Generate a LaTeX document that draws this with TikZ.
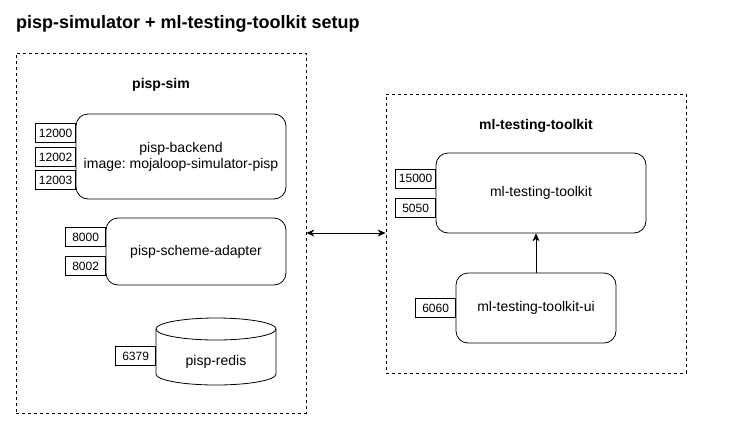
\documentclass[tikz,border=0pt]{standalone}
\usepackage{fontspec}
\setmainfont{Liberation Sans}
\usetikzlibrary{arrows.meta}
\frenchspacing
\begin{document}
\begin{tikzpicture}[x=1pt,y=-1pt,
  grp/.style={draw,dashed,line width=0.8pt},
  svc/.style={draw,rounded corners=12pt,line width=0.8pt,font=\fontsize{14}{16}\selectfont,align=center,inner sep=0pt},
  port/.style={draw,line width=0.8pt,font=\fontsize{12}{14}\selectfont,inner sep=0pt,minimum width=40pt,minimum height=19pt},
  lbl/.style={font=\bfseries\fontsize{14}{16}\selectfont,inner sep=0pt},
  arr/.style={line width=0.8pt,-{Stealth[length=8pt,width=7pt]}},
  darr/.style={line width=0.8pt,{Stealth[length=8pt,width=7pt]}-{Stealth[length=8pt,width=7pt]}}
]
\useasboundingbox (0,0) rectangle (749,421);
\node[font=\bfseries\fontsize{18}{20}\selectfont,anchor=west,inner sep=0pt] (title) at (16,24) {pisp-simulator + ml-testing-toolkit setup};

% left group
\node[grp,minimum width=290pt,minimum height=360pt,inner sep=0pt] (gsim) at (161,233) {};
\node[lbl] (lsim) at (161,85) {pisp-sim};

\node[svc,minimum width=210pt,minimum height=85pt] (backend) at (181,156.5) {pisp-backend\\image: mojaloop-simulator-pisp};
\node[port,anchor=east] (p12000) at (76,133) {12000};
\node[port,anchor=east] (p12002) at (76,157) {12002};
\node[port,anchor=east] (p12003) at (76,180) {12003};

\node[svc,minimum width=180pt,minimum height=67pt] (adapter) at (196,251.5) {pisp-scheme-adapter};
\node[port,anchor=east] (p8000) at (106,237) {8000};
\node[port,anchor=east] (p8002) at (106,266) {8002};

% redis cylinder
\draw[line width=0.8pt,fill=white] (156,329) -- (156,374) arc[start angle=180,end angle=0,x radius=60,y radius=11] -- (276,329);
\draw[line width=0.8pt] (216,329) ellipse[x radius=60,y radius=11];
\node[font=\fontsize{14}{16}\selectfont,inner sep=0pt] (redis) at (216,362) {pisp-redis};
\coordinate (redisw) at (156,356);
\node[port,anchor=east] (p6379) at (redisw) {6379};

% right group
\node[grp,minimum width=300pt,minimum height=279pt,inner sep=0pt] (gml) at (536,233.5) {};
\node[lbl] (lml) at (536,126) {ml-testing-toolkit};

\node[svc,minimum width=210pt,minimum height=80pt] (mlt) at (541,193) {ml-testing-toolkit};
\node[port,anchor=east] (p15000) at (436,178.5) {15000};
\node[port,anchor=east] (p5050) at (436,208) {5050};

\node[svc,minimum width=160pt,minimum height=70pt] (mlui) at (536,308) {ml-testing-toolkit-ui};
\node[port,anchor=east] (p6060) at (456,308) {6060};

\draw[arr] (mlui.north) -- (mlui.north |- mlt.south);
\draw[darr] (gsim.east |- 0,233) -- (gml.west |- 0,233);
\end{tikzpicture}
\end{document}
